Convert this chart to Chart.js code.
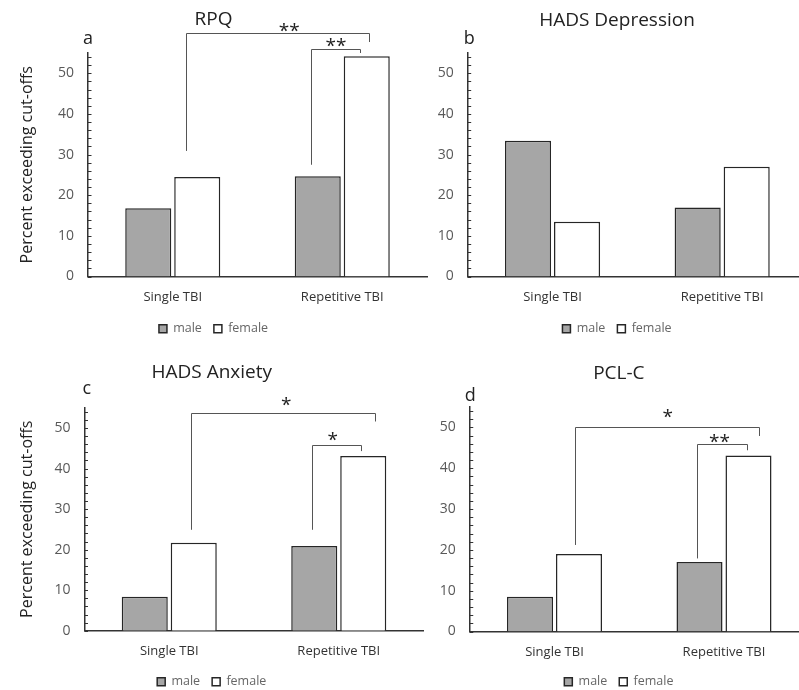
<!DOCTYPE html>
<html>
<head>
<meta charset="utf-8">
<script src="https://cdn.jsdelivr.net/npm/chart.js@4.4.0/dist/chart.umd.min.js"></script>
<style>
  html, body { margin: 0; padding: 0; background: #fff; width: 799px; height: 690px; overflow: hidden; }
  canvas { position: absolute; }
</style>
</head>
<body>
<canvas id="chartA" width="495" height="345" style="left:0;top:0"></canvas>
<canvas id="chartB" width="400" height="345" style="left:427px;top:0"></canvas>
<canvas id="chartC" width="490" height="353" style="left:0;top:345px"></canvas>
<canvas id="chartD" width="400" height="353" style="left:429px;top:345px"></canvas>
<script>
// ===== Data =====
const categories = ['Single TBI', 'Repetitive TBI'];
const seriesNames = ['male', 'female'];

const rpqMale = [16.8, 24.7];
const rpqFemale = [24.5, 54.2];
const depMale = [33.4, 17.0];
const depFemale = [13.5, 27.0];
const anxMale = [8.4, 20.9];
const anxFemale = [21.7, 43.1];
const pclMale = [8.5, 17.0];
const pclFemale = [19.0, 43.1];

const yMax = 55;
const yStep = 10;
const yMinorStep = 2;

// significance brackets: x in category units (0 = Single, 1 = Repetitive), y in percent
const rpqBrackets = [
  { from: 0.078, to: 1.158, top: 59.9, fromY: 30.9, toY: 57.7, text: '**', tx: 0.687, ty: 61.3 },
  { from: 0.816, to: 1.105, top: 55.9, fromY: 27.5, toY: 55.0, text: '**', tx: 0.963, ty: 57.8 },
];
const anxBrackets = [
  { from: 0.127, to: 1.212, top: 53.8, fromY: 24.9, toY: 51.6, text: '*', tx: 0.69, ty: 56.6 },
  { from: 0.842, to: 1.134, top: 45.7, fromY: 24.9, toY: 44.3, text: '*', tx: 0.965, ty: 48.1 },
];
const pclBrackets = [
  { from: 0.119, to: 1.206, top: 50.0, fromY: 21.2, toY: 47.9, text: '*', tx: 0.668, ty: 53.6 },
  { from: 0.841, to: 1.137, top: 46.0, fromY: 17.9, toY: 44.4, text: '**', tx: 0.973, ty: 47.4 },
];

const FONT = '"Open Sans", "DejaVu Sans", sans-serif';
const MALE_FILL = '#a6a6a6';
const EDGE = '#262626';

// ===== Decorations: minor ticks, panel letter, brackets =====
const decorPlugin = {
  id: 'decor',
  afterDraw(chart, args, opts) {
    const { ctx, chartArea, scales: { x, y } } = chart;
    ctx.save();

    // minor ticks on the inside of the y axis
    ctx.strokeStyle = '#333';
    ctx.lineWidth = 1;
    for (let v = 0; v < yMax; v += yMinorStep) {
      const py = Math.round(y.getPixelForValue(v)) + 0.5;
      ctx.beginPath();
      ctx.moveTo(chartArea.left, py);
      ctx.lineTo(chartArea.left + 3.5, py);
      ctx.stroke();
    }

    // panel letter
    ctx.fillStyle = '#222';
    ctx.font = `18px ${FONT}`;
    ctx.textAlign = 'left';
    ctx.textBaseline = 'alphabetic';
    ctx.fillText(opts.letter, chartArea.left + opts.letterDx, chartArea.top + opts.letterDy);

    // brackets
    const x0 = x.getPixelForValue(0);
    const x1 = x.getPixelForValue(1);
    const xAt = (f) => x0 + f * (x1 - x0);
    ctx.strokeStyle = '#555';
    ctx.lineWidth = 1;
    ctx.font = `19px ${FONT}`;
    ctx.textAlign = 'center';
    (opts.brackets || []).forEach((b) => {
      const top = Math.round(y.getPixelForValue(b.top)) + 0.5;
      const l = Math.round(xAt(b.from)) + 0.5;
      const r = Math.round(xAt(b.to)) + 0.5;
      ctx.beginPath();
      ctx.moveTo(l, y.getPixelForValue(b.fromY));
      ctx.lineTo(l, top);
      ctx.lineTo(r, top);
      ctx.lineTo(r, y.getPixelForValue(b.toY));
      ctx.stroke();
      ctx.fillStyle = '#222';
      ctx.fillText(b.text, xAt(b.tx), y.getPixelForValue(b.ty) + 10);
    });

    ctx.restore();
  },
};

// ===== Panel factory =====
function makePanel(id, cfg) {
  const ctx = document.getElementById(id).getContext('2d');
  return new Chart(ctx, {
    type: 'bar',
    data: {
      labels: categories,
      datasets: [
        { label: seriesNames[0], data: cfg.male, backgroundColor: MALE_FILL, borderColor: EDGE, borderWidth: 1.5 },
        { label: seriesNames[1], data: cfg.female, backgroundColor: '#ffffff', borderColor: EDGE, borderWidth: 1.5 },
      ],
    },
    options: {
      responsive: false,
      animation: false,
      categoryPercentage: 0.578,
      barPercentage: 0.94,
      layout: { padding: { left: 0, right: cfg.padRight, top: 0, bottom: 0 } },
      scales: {
        x: {
          grid: { display: false, drawTicks: false },
          border: { display: true, color: '#333', width: 1.5 },
          ticks: { color: '#333', font: { family: FONT, size: 13 }, padding: 13 },
          afterFit: (s) => { s.height = cfg.xHeight; },
        },
        y: {
          min: 0,
          max: yMax,
          grid: { display: false, drawTicks: false },
          border: { display: true, color: '#333', width: 1.5 },
          ticks: {
            stepSize: yStep,
            color: '#595959',
            font: { family: FONT, size: 14 },
            padding: 14,
            callback: (v) => (v % yStep === 0 ? v : ''),
          },
          title: {
            display: !!cfg.yTitle,
            text: cfg.yTitle || '',
            color: '#222',
            font: { family: FONT, size: 16 },
            padding: { top: 18, bottom: 0 },
          },
          afterFit: (s) => { s.width = cfg.yWidth; },
        },
      },
      plugins: {
        title: {
          display: true,
          text: cfg.title,
          color: '#222',
          font: { family: FONT, size: 19, weight: 'normal' },
          padding: { top: cfg.titleTop, bottom: cfg.titleBottom },
        },
        legend: {
          position: 'bottom',
          labels: {
            boxWidth: 8,
            boxHeight: 8,
            padding: 12,
            color: '#666',
            font: { family: FONT, size: 12.5 },
          },
        },
        tooltip: { enabled: false },
        decor: { letter: cfg.letter, letterDx: cfg.letterDx, letterDy: cfg.letterDy, brackets: cfg.brackets },
      },
    },
    plugins: [decorPlugin],
  });
}

makePanel('chartA', {
  title: 'RPQ', letter: 'a', letterDx: -5, letterDy: -9,
  male: rpqMale, female: rpqFemale, brackets: rpqBrackets,
  yTitle: 'Percent exceeding cut-offs', yWidth: 88, padRight: 68,
  titleTop: 8.6, titleBottom: 21.6, xHeight: 34,
});
makePanel('chartB', {
  title: 'HADS Depression', letter: 'b', letterDx: -4, letterDy: -9,
  male: depMale, female: depFemale, brackets: [],
  yTitle: null, yWidth: 40.7, padRight: 20,
  titleTop: 9.6, titleBottom: 20.6, xHeight: 34,
});
makePanel('chartC', {
  title: 'HADS Anxiety', letter: 'c', letterDx: -2, letterDy: -14,
  male: anxMale, female: anxFemale, brackets: anxBrackets,
  yTitle: 'Percent exceeding cut-offs', yWidth: 84.5, padRight: 66.5,
  titleTop: 16.6, titleBottom: 23.3, xHeight: 32.7,
});
makePanel('chartD', {
  title: 'PCL-C', letter: 'd', letterDx: -5, letterDy: -6,
  male: pclMale, female: pclFemale, brackets: pclBrackets,
  yTitle: null, yWidth: 40.75, padRight: 20.25,
  titleTop: 17.6, titleBottom: 21.6, xHeight: 32,
});
</script>
</body>
</html>
